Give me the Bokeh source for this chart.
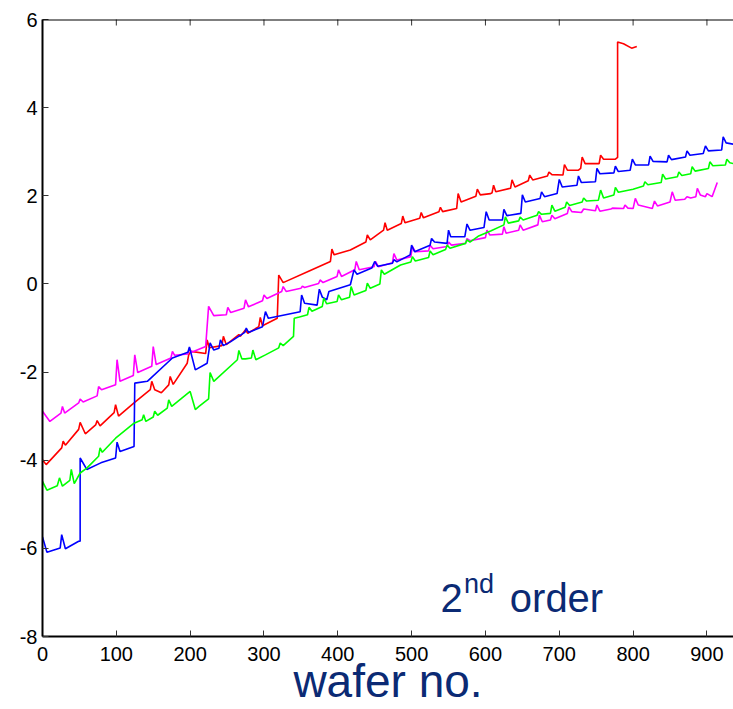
import math
from bokeh.plotting import figure
from bokeh.models import Range1d, FixedTicker, Label, Span
from bokeh.embed import file_html
from bokeh.resources import INLINE

# ---- data (wafer no., value) ----
red_x = [0, 5, 26, 28, 31, 49, 51, 58, 72, 74, 78, 97, 99, 103, 124, 146, 148, 152, 161, 171, 173, 177,
         196, 198, 201, 221, 223, 226, 243, 245, 249, 266, 268, 275, 278, 293, 295, 298, 318, 320, 326,
         362, 390, 392, 395, 417, 438, 440, 444, 462, 464, 467, 486, 488, 491, 511, 513, 516, 537, 539,
         542, 561, 563, 567, 587, 589, 593, 607, 609, 611, 614, 634, 636, 640, 658, 660, 664, 684, 686,
         690, 705, 707, 711, 726, 729, 731, 735, 751, 754, 756, 760, 776, 779, 779, 787, 798, 805]
red_y = [-3.99, -4.10, -3.72, -3.57, -3.66, -3.30, -3.14, -3.40, -3.20, -3.10, -3.22, -2.92, -2.74, -3.00,
         -2.70, -2.40, -2.21, -2.40, -2.47, -2.29, -2.10, -2.28, -1.80, -1.61, -1.53, -1.58, -1.27, -1.45,
         -1.40, -1.19, -1.38, -1.15, -1.19, -1.04, -1.12, -0.97, -0.76, -0.95, -0.78, 0.20, 0.03, 0.30,
         0.51, 0.79, 0.66, 0.77, 0.95, 1.11, 1.00, 1.22, 1.39, 1.22, 1.37, 1.54, 1.39, 1.49, 1.62, 1.50,
         1.64, 1.74, 1.64, 1.71, 2.05, 1.86, 1.99, 2.15, 2.02, 2.05, 2.07, 2.24, 2.09, 2.17, 2.36, 2.20,
         2.34, 2.47, 2.36, 2.45, 2.54, 2.48, 2.47, 2.71, 2.58, 2.58, 2.62, 2.88, 2.73, 2.73, 2.73, 2.92,
         2.83, 2.83, 2.87, 5.49, 5.45, 5.35, 5.39]

magenta_x = [0, 10, 25, 27, 30, 49, 51, 55, 74, 76, 80, 99, 101, 105, 123, 125, 129, 148, 150, 154, 174,
             176, 179, 197, 199, 202, 221, 225, 232, 249, 251, 255, 273, 275, 279, 298, 300, 304, 324, 326,
             330, 350, 352, 355, 374, 376, 380, 399, 401, 405, 423, 425, 429, 449, 451, 455, 474, 476, 480,
             499, 501, 505, 523, 525, 529, 548, 550, 554, 573, 575, 579, 600, 602, 606, 623, 625, 628, 645,
             647, 651, 671, 673, 677, 688, 690, 694, 711, 713, 717, 730, 733, 749, 751, 755, 770, 772, 787,
             789, 793, 800, 803, 807, 826, 829, 833, 850, 853, 857, 870, 873, 878, 885, 887, 891, 898, 900,
             907, 914]
magenta_y = [-2.89, -3.12, -2.93, -2.78, -2.93, -2.70, -2.61, -2.68, -2.54, -2.33, -2.40, -2.29, -1.72,
             -2.21, -2.08, -1.61, -2.01, -1.87, -1.42, -1.83, -1.68, -1.53, -1.62, -1.59, -1.46, -1.55,
             -1.42, -0.51, -0.72, -0.70, -0.53, -0.65, -0.55, -0.36, -0.52, -0.38, -0.25, -0.33, -0.17,
             -0.06, -0.17, -0.10, -0.05, -0.08, 0.01, 0.09, 0.03, 0.17, 0.32, 0.17, 0.32, 0.51, 0.32, 0.39,
             0.51, 0.39, 0.48, 0.69, 0.54, 0.62, 0.85, 0.73, 0.75, 0.88, 0.80, 0.85, 0.95, 0.88, 0.92, 1.03,
             0.98, 1.05, 1.22, 1.11, 1.13, 1.30, 1.15, 1.22, 1.34, 1.22, 1.34, 1.56, 1.41, 1.45, 1.56, 1.48,
             1.60, 1.75, 1.64, 1.62, 1.70, 1.66, 1.79, 1.65, 1.70, 1.72, 1.71, 1.79, 1.72, 1.71, 1.94, 1.79,
             1.71, 1.88, 1.77, 1.86, 2.09, 1.90, 1.92, 1.98, 1.95, 1.98, 2.17, 2.02, 1.98, 2.05, 1.98, 2.30]

blue_x = [0, 6, 24, 26, 31, 49, 51, 51, 60, 79, 99, 101, 105, 124, 125, 142, 176, 197, 199, 207, 223, 227,
          232, 239, 241, 245, 255, 274, 276, 279, 298, 302, 306, 349, 351, 355, 372, 375, 379, 385, 388,
          417, 422, 426, 446, 450, 454, 474, 476, 480, 498, 500, 504, 525, 527, 531, 548, 550, 553, 572,
          575, 579, 598, 601, 605, 623, 625, 629, 648, 650, 654, 674, 676, 680, 697, 700, 704, 724, 726,
          730, 749, 751, 755, 774, 776, 780, 796, 799, 803, 821, 823, 827, 846, 848, 852, 871, 873, 877,
          895, 898, 902, 920, 922, 926, 936]
blue_y = [-5.74, -6.09, -5.99, -5.69, -6.01, -5.84, -5.84, -3.95, -4.21, -4.06, -3.95, -3.59, -3.80, -3.69,
          -2.25, -2.21, -1.68, -1.55, -1.43, -1.95, -1.80, -1.34, -1.50, -1.46, -1.27, -1.40, -1.31, -1.10,
          -1.00, -1.10, -0.97, -0.63, -0.78, -0.63, -0.25, -0.44, -0.48, -0.12, -0.30, -0.36, -0.17, -0.02,
          0.32, 0.22, 0.36, 0.51, 0.40, 0.47, 0.55, 0.50, 0.66, 0.88, 0.73, 0.88, 1.03, 0.95, 0.92, 1.22,
          1.07, 1.07, 1.36, 1.22, 1.28, 1.64, 1.45, 1.45, 1.69, 1.55, 1.60, 2.02, 1.86, 1.94, 2.09, 1.98,
          2.05, 2.37, 2.20, 2.24, 2.45, 2.30, 2.32, 2.62, 2.50, 2.52, 2.67, 2.55, 2.58, 2.83, 2.70, 2.70,
          2.90, 2.78, 2.77, 2.92, 2.82, 2.88, 3.02, 2.92, 2.96, 3.13, 3.02, 3.04, 3.34, 3.20, 3.17]

green_x = [0, 6, 20, 23, 27, 37, 39, 43, 51, 60, 76, 78, 81, 99, 124, 135, 137, 140, 150, 152, 156, 169,
           171, 175, 200, 207, 212, 225, 227, 232, 264, 266, 270, 275, 283, 285, 289, 302, 320, 322, 326,
           340, 341, 348, 359, 361, 365, 379, 381, 385, 399, 401, 405, 416, 418, 422, 438, 440, 444, 457,
           459, 463, 485, 499, 501, 505, 523, 525, 529, 546, 548, 552, 573, 575, 579, 590, 607, 625, 627,
           631, 645, 647, 651, 670, 672, 676, 688, 690, 694, 708, 710, 714, 731, 733, 737, 753, 756, 760,
           774, 776, 780, 800, 814, 816, 820, 838, 840, 844, 860, 862, 866, 878, 880, 884, 902, 904, 908,
           925, 927, 931, 936]
green_y = [-4.48, -4.68, -4.58, -4.40, -4.59, -4.46, -4.21, -4.53, -4.29, -4.18, -3.91, -3.72, -3.82, -3.50,
           -3.16, -3.08, -2.97, -3.12, -3.02, -2.89, -2.98, -2.82, -2.63, -2.78, -2.44, -2.85, -2.78, -2.61,
           -2.01, -2.21, -1.72, -1.51, -1.70, -1.70, -1.68, -1.50, -1.72, -1.61, -1.45, -1.34, -1.40, -1.19,
           -0.78, -0.75, -0.70, -0.53, -0.62, -0.51, -0.32, -0.45, -0.40, -0.25, -0.36, -0.30, -0.06, -0.25,
           -0.15, 0.02, -0.10, 0.00, 0.32, 0.22, 0.43, 0.50, 0.62, 0.52, 0.60, 0.75, 0.66, 0.78, 0.88, 0.81,
           0.92, 1.00, 0.95, 1.08, 1.20, 1.34, 1.52, 1.38, 1.43, 1.52, 1.45, 1.56, 1.64, 1.58, 1.60, 1.79,
           1.65, 1.74, 1.86, 1.78, 1.86, 1.95, 1.88, 1.90, 2.13, 1.95, 2.02, 2.19, 2.08, 2.15, 2.22, 2.32,
           2.25, 2.30, 2.49, 2.38, 2.43, 2.54, 2.46, 2.50, 2.66, 2.56, 2.62, 2.77, 2.68, 2.70, 2.83, 2.75,
           2.73]

x_ticks = [0, 100, 200, 300, 400, 500, 600, 700, 800, 900]
y_ticks = [-8, -6, -4, -2, 0, 2, 4, 6]
X_MAX = 936
Y_MIN, Y_MAX = -8, 6

FONT = "Liberation Sans"
NAVY = "#0b2a74"

p = figure(width=733, height=709, output_backend="svg", toolbar_location=None,
           x_range=Range1d(0, X_MAX), y_range=Range1d(Y_MIN, Y_MAX),
           min_border_left=42, min_border_right=0, min_border_top=19, min_border_bottom=72)
p.outline_line_color = None
p.xgrid.visible = False
p.ygrid.visible = False
p.background_fill_color = "white"
p.border_fill_color = "white"

for xs, ys, c in [(red_x, red_y, "#ff0000"), (magenta_x, magenta_y, "#ff00ff"),
                  (blue_x, blue_y, "#0000ff"), (green_x, green_y, "#00ff00")]:
    p.line(xs, ys, line_color=c, line_width=1.6)

for ax in (p.xaxis[0], p.yaxis[0]):
    ax.axis_line_width = 2
    ax.axis_line_color = "black"
    ax.major_tick_in = 6
    ax.major_tick_out = 0
    ax.minor_tick_line_color = None
    ax.major_tick_line_color = "#333333"
    ax.major_label_text_font = FONT
    ax.major_label_text_font_size = "20px"
    ax.major_label_text_color = "black"

p.xaxis[0].ticker = FixedTicker(ticks=x_ticks)
p.yaxis[0].ticker = FixedTicker(ticks=y_ticks)
p.yaxis[0].major_label_overrides = {t: str(t) for t in y_ticks}
p.xaxis[0].major_label_standoff = 10
p.yaxis[0].major_label_standoff = 5

# x axis title
p.xaxis[0].axis_label = "wafer no."
p.xaxis[0].axis_label_text_font = FONT
p.xaxis[0].axis_label_text_font_size = "46px"
p.xaxis[0].axis_label_text_font_style = "normal"
p.xaxis[0].axis_label_text_color = NAVY
p.xaxis[0].axis_label_standoff = -9

# top frame line with inward ticks
p.add_layout(Span(location=Y_MAX, dimension="width", line_color="black", line_width=2))
p.scatter(x=x_ticks, y=[Y_MAX] * len(x_ticks), marker="dash", angle=math.pi / 2, size=12,
          line_color="#333333", line_width=1)

p.add_layout(Label(x=539, y=-7.12, text="2", text_font=FONT, text_font_size="40px",
                   text_color=NAVY, text_align="left", text_baseline="alphabetic"))
p.add_layout(Label(x=571, y=-6.80, text="nd", text_font=FONT, text_font_size="27px",
                   text_color=NAVY, text_align="left", text_baseline="alphabetic"))
p.add_layout(Label(x=633, y=-7.12, text="order", text_font=FONT, text_font_size="40px",
                   text_color=NAVY, text_align="left", text_baseline="alphabetic"))

open("out.html", "w").write(file_html(p, INLINE))
